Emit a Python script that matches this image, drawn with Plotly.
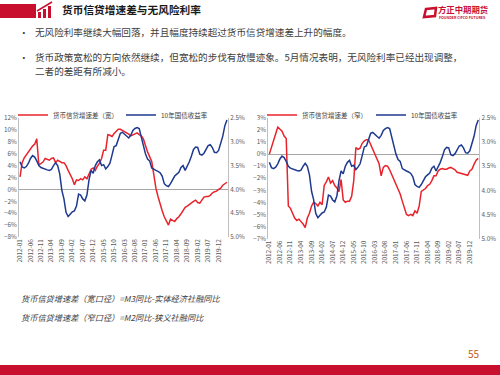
import plotly.graph_objects as go

# ---------------- data ----------------
months = [f"{y}-{m:02d}" for y in range(2012, 2021) for m in range(1, 13)][:100]  # 2012-01 .. 2020-04
tick_labels = months[:96:5]  # 2012-01, 2012-06, ... 2019-12

spread_wide = [2.1, 4.5, 5.3, 5.8, 6.5, 7.0, 7.3, 7.6, 8.5, 4.1,
               4.3, 4.6, 5.2, 5.0, 4.9, 5.2, 5.3, 4.5, 4.9, 4.7,
               4.5, 4.5, 4.0, 3.2, 2.6, 1.8, 0.8, 1.6, 1.5, 1.8,
               1.6, 2.1, 1.8, 2.7, 3.4, 3.6, 3.2, 3.9, 4.4, 5.2,
               6.6, 6.6, 9.2, 9.1, 8.9, 9.4, 9.8, 10.1, 10.1, 9.9,
               9.8, 9.6, 9.3, 9.0, 9.2, 9.4, 9.5, 9.2, 9.0, 8.5,
               7.2, 6.3, 5.5, 4.7, 2.5, 0.2, -1.2, -2.6, -3.6, -4.6,
               -5.2, -6.0, -5.0, -5.2, -5.4, -4.9, -4.6, -4.1, -3.5, -3.0,
               -2.8, -2.5, -2.2, -2.0, -1.8, -2.2, -2.3, -1.8, -1.3, -1.2,
               -1.2, -1.0, -0.6, -0.4, -0.3, 0.0, 0.2, 0.7, 1.0, 1.2]

spread_narrow = [0.0, 0.6, 1.3, 1.7, 2.25, 2.1, 1.9, 1.5, 1.3, -4.3,
                 -4.5, -4.9, -5.3, -5.5, -5.4, -5.6, -5.8, -6.1, -5.3, -4.9,
                 -4.3, -4.0, -4.1, -4.3, -4.0, -4.2, -2.6, -2.3, -1.9, -2.4,
                 -2.2, -2.6, -2.8, -3.1, -2.1, -3.8, -4.0, -3.9, -3.9, -3.5,
                 -2.2, 0.55, 0.4, 0.5, 0.9, 1.1, 1.2, 1.2, 0.8, 0.3,
                 -0.1, -0.5, -0.8, -1.8, -1.1, -0.95, -1.0, -1.3, -1.7, -2.1,
                 -2.5, -2.8, -3.3, -3.9, -4.5, -5.0, -5.1, -5.0, -5.1, -4.7,
                 -4.9, -4.3, -3.1, -2.95, -2.85, -2.6, -2.5, -2.2, -1.8, -1.8,
                 -1.4, -1.25, -1.2, -1.25, -1.25, -1.15, -1.1, -1.2, -1.3, -1.5,
                 -1.55, -1.6, -1.6, -1.7, -1.75, -1.4, -1.25, -0.85, -0.5, -0.35]

yield_10y = [3.42, 3.53, 3.55, 3.52, 3.45, 3.35, 3.29, 3.32, 3.40, 3.50,
             3.54, 3.56, 3.57, 3.59, 3.60, 3.58, 3.50, 3.44, 3.50, 3.68,
             4.02, 4.20, 4.48, 4.57, 4.52, 4.47, 4.45, 4.35, 4.10, 4.12,
             4.20, 4.24, 4.12, 3.80, 3.60, 3.66, 3.50, 3.42, 3.38, 3.50,
             3.48, 3.57, 3.52, 3.45, 3.28, 3.10, 3.08, 2.93, 2.82, 2.80,
             2.84, 2.88, 2.92, 2.86, 2.76, 2.72, 2.70, 2.72, 2.92, 3.12,
             3.25, 3.36, 3.40, 3.55, 3.58, 3.60, 3.62, 3.65, 3.72, 3.88,
             3.92, 3.94, 3.88, 3.80, 3.72, 3.68, 3.64, 3.54, 3.50, 3.60,
             3.52, 3.42, 3.30, 3.16, 3.11, 3.12, 3.26, 3.28, 3.24, 3.16,
             3.08, 3.06, 3.12, 3.22, 3.23, 3.18, 3.05, 2.88, 2.66, 2.54]

name_wide = "货币信贷增速差（宽）"
name_narrow = "货币信贷增速差（窄）"
name_yield = "10年国债收益率"

# ---------------- style ----------------
W, H = 500, 375
FONT = "Noto Sans CJK SC"
RED = "#E8232B"
BLUE = "#1F3A8F"
AXIS_GREY = "#BFBFBF"
TICK_TXT = "#595959"
TEXT = "#404040"
BRAND = "#C8102E"


def X(px):
    return px / W


def Y(py):
    return 1 - py / H


fig = go.Figure()
fig.add_trace(go.Scatter(x=months, y=spread_wide, name=name_wide, mode="lines",
                         line=dict(color=RED, width=1.5), xaxis="x", yaxis="y", legend="legend"))
fig.add_trace(go.Scatter(x=months, y=yield_10y, name=name_yield, mode="lines",
                         line=dict(color=BLUE, width=1.5), xaxis="x", yaxis="y2", legend="legend2"))
fig.add_trace(go.Scatter(x=months, y=spread_narrow, name=name_narrow, mode="lines",
                         line=dict(color=RED, width=1.5), xaxis="x2", yaxis="y3", legend="legend3"))
fig.add_trace(go.Scatter(x=months, y=yield_10y, name=name_yield, mode="lines",
                         line=dict(color=BLUE, width=1.5), xaxis="x2", yaxis="y4", legend="legend4"))

tickfont = dict(family=FONT, size=6.3, color=TICK_TXT)
xcommon = dict(type="category", range=[-0.5, 99.5], tickmode="array", tickvals=tick_labels,
               ticktext=tick_labels, tickangle=-90, tickfont=tickfont, showgrid=False,
               showline=False, ticks="", zeroline=False, automargin=False)
ycommon = dict(showgrid=False, showline=True, linecolor=AXIS_GREY, linewidth=1, ticks="",
               tickfont=tickfont, automargin=False)

left_dom_y = [Y(237), Y(118)]
right_dom_y = [Y(238.5), Y(118)]

fig.update_layout(
    width=W, height=H, margin=dict(l=0, r=0, t=0, b=0, autoexpand=False),
    paper_bgcolor="white", plot_bgcolor="white",
    font=dict(family=FONT, color=TEXT),
    xaxis=dict(domain=[X(19), X(228)], anchor="y", **xcommon),
    xaxis2=dict(domain=[X(268.3), X(479.3)], anchor="y3", **xcommon),
    yaxis=dict(domain=left_dom_y, anchor="x", range=[-8, 12], dtick=2, ticksuffix="%",
               zeroline=True, zerolinecolor="#A6A6A6", zerolinewidth=1, **ycommon),
    yaxis2=dict(overlaying="y", anchor="x", side="right", range=[5.0, 2.5], dtick=0.5,
                tickformat=".1f", ticksuffix="%", zeroline=False, **ycommon),
    yaxis3=dict(domain=right_dom_y, anchor="x2", range=[-7, 3], dtick=1, ticksuffix="%",
                zeroline=True, zerolinecolor="#A6A6A6", zerolinewidth=1, **ycommon),
    yaxis4=dict(overlaying="y3", anchor="x2", side="right", range=[5.0, 2.5], dtick=0.5,
                tickformat=".1f", ticksuffix="%", zeroline=False, **ycommon),
    showlegend=True,
)

legfont = dict(family=FONT, size=6.5, color=TEXT)
for key, px in (("legend", 13), ("legend2", 121), ("legend3", 262), ("legend4", 371)):
    fig.update_layout({key: dict(x=X(px), y=Y(115), xanchor="left", yanchor="middle",
                                 orientation="h", bgcolor="rgba(0,0,0,0)", font=legfont,
                                 itemwidth=30, borderwidth=0)})

# ---------------- header / slide decoration ----------------
shapes = [
    dict(type="rect", xref="paper", yref="paper", x0=X(0), x1=X(36), y0=Y(18), y1=Y(4),
         fillcolor=BRAND, line=dict(width=0)),
    # small bar-chart icon
    dict(type="rect", xref="paper", yref="paper", x0=X(38), x1=X(41), y0=Y(18), y1=Y(12),
         fillcolor=BRAND, line=dict(width=0)),
    dict(type="rect", xref="paper", yref="paper", x0=X(43), x1=X(46), y0=Y(18), y1=Y(9),
         fillcolor=BRAND, line=dict(width=0)),
    dict(type="rect", xref="paper", yref="paper", x0=X(48), x1=X(51), y0=Y(18), y1=Y(6),
         fillcolor=BRAND, line=dict(width=0)),
    dict(type="line", xref="paper", yref="paper", x0=X(37), x1=X(52), y0=Y(11), y1=Y(2),
         line=dict(color=BRAND, width=1.5)),
    # logo mark
    dict(type="path", xref="paper", yref="paper",
         path=f"M {X(426)},{Y(9)} L {X(436)},{Y(8)} L {X(435)},{Y(16)} L {X(424)},{Y(17)} Z",
         fillcolor="rgba(0,0,0,0)", line=dict(color=BRAND, width=2.5)),
    # bottom bar
    dict(type="rect", xref="paper", yref="paper", x0=0, x1=1, y0=0, y1=Y(365),
         fillcolor=BRAND, line=dict(width=0)),
]
fig.update_layout(shapes=shapes)


def note(px, py, text, size, color=TEXT, xanchor="left"):
    fig.add_annotation(x=X(px), y=Y(py), xref="paper", yref="paper", text=text,
                       showarrow=False, xanchor=xanchor, yanchor="middle",
                       font=dict(family=FONT, size=size, color=color))


note(60, 10, "<b>货币信贷增速差与无风险利率</b>", 10.7, "#1A1A1A")
note(436, 9.5, "<b>方正中期期货</b>", 8.4, BRAND)
note(437, 17, "<b>FOUNDER CIFCO FUTURES</b>", 3.6, BRAND)

note(17, 32, "•", 9.6)
note(33, 32, "无风险利率继续大幅回落，并且幅度持续超过货币信贷增速差上升的幅度。", 9.6)
note(17, 56.5, "•", 9.6)
note(33, 56.5, "货币政策宽松的方向依然继续，但宽松的步伐有放慢迹象。5月情况表明，无风险利率已经出现调整，", 9.6)
note(33, 71, "二者的差距有所减小。", 9.6)

note(19, 298, "<i>货币信贷增速差（宽口径）=M3同比-实体经济社融同比</i>", 8.2)
note(19, 317, "<i>货币信贷增速差（窄口径）=M2同比-狭义社融同比</i>", 8.2)
note(482, 353, "55", 10, "#C55A11", xanchor="right")

# the page's default body margin would offset the fixed-size figure; remove it
fig.write_html("out.html", config={"displayModeBar": False},
               post_script="document.body.style.margin='0';")
